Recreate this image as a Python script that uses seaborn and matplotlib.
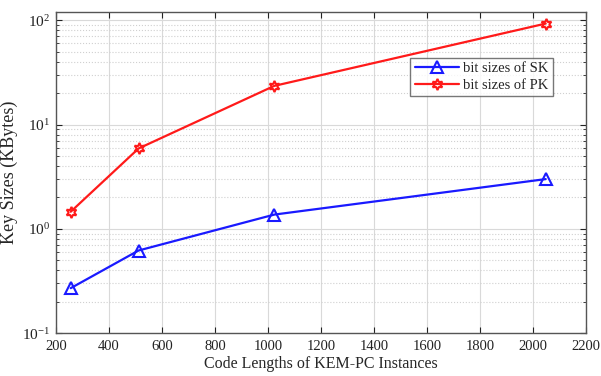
import pandas as pd
import seaborn as sns
import matplotlib.pyplot as plt
from matplotlib.ticker import LogLocator, NullFormatter

code_lengths = [256, 512, 1024, 2048]
sk_sizes = [0.27, 0.62, 1.37, 3.0]
pk_sizes = [1.46, 5.9, 23.5, 93.0]

df = pd.DataFrame({
    'n': code_lengths * 2,
    'size': sk_sizes + pk_sizes,
    'key': ['bit sizes of SK'] * 4 + ['bit sizes of PK'] * 4,
})

sns.set_style('ticks')
plt.rcParams['font.family'] = ['Liberation Serif', 'DejaVu Serif']
plt.rcParams['mathtext.fontset'] = 'stix'

fig = plt.figure(figsize=(6.01, 3.76), dpi=100)
ax = fig.add_axes([0.093, 0.114, 0.882, 0.853])

colors = {'bit sizes of SK': '#1a1aff', 'bit sizes of PK': '#ff1a1a'}
markers = {'bit sizes of SK': '^', 'bit sizes of PK': (6, 1, 0)}
for key in ['bit sizes of SK', 'bit sizes of PK']:
    sub = df[df['key'] == key]
    sns.lineplot(data=sub, x='n', y='size', ax=ax, color=colors[key],
                 marker=markers[key], markersize=8, markerfacecolor='none',
                 markeredgecolor=colors[key], markeredgewidth=1.5,
                 linewidth=1.6, label=key)

ax.set_yscale('log')
ax.set_xlim(200, 2200)
ax.set_ylim(0.1, 119)
ax.set_xticks(range(200, 2201, 200))
ax.yaxis.set_major_locator(LogLocator(base=10, numticks=10))
ax.yaxis.set_minor_locator(LogLocator(base=10, subs=range(2, 10), numticks=20))
ax.yaxis.set_minor_formatter(NullFormatter())

ax.grid(True, which='major', color='#d9d9d9', linewidth=0.8)
ax.grid(True, which='minor', axis='y', color='#d0d0d0', linestyle=':', linewidth=0.8)
ax.tick_params(which='both', direction='in', top=True, right=True, labelsize=10.5,
               colors='#222222')
ax.tick_params(axis='x', pad=5)
ax.tick_params(axis='y', labelsize=11, pad=4)
ax.tick_params(which='major', length=4)
ax.tick_params(which='minor', length=2)
for s in ax.spines.values():
    s.set_color('#555555')
    s.set_linewidth(1.0)

ax.set_xlabel('Code Lengths of KEM-PC Instances', fontsize=11.5, labelpad=2)
ax.set_ylabel('Key Sizes (KBytes)', fontsize=13, labelpad=3)

leg = ax.legend(loc='upper right', bbox_to_anchor=(0.951, 0.882), fontsize=10.5,
                frameon=True, fancybox=False, edgecolor='#555555',
                borderpad=0.3, labelspacing=0.25, handlelength=3.0, handletextpad=0.3)
leg.get_frame().set_linewidth(1.0)

fig.savefig('out.png', dpi=100)
